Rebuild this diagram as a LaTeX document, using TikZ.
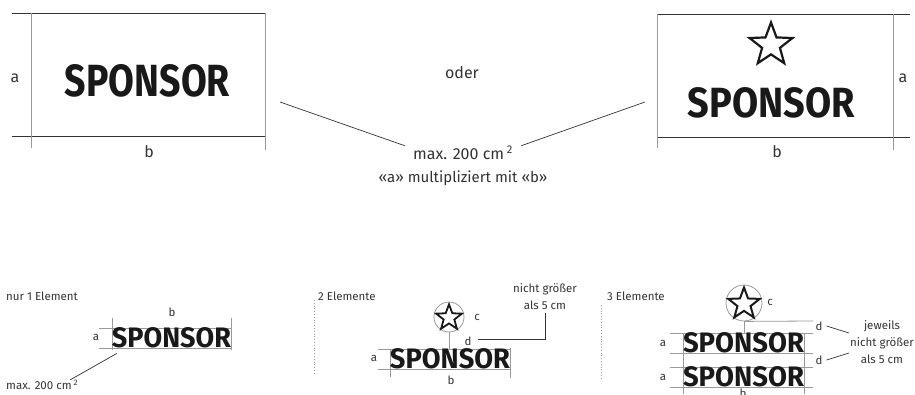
\documentclass[tikz,border=0pt]{standalone}
\usepackage{fontspec}
\setmainfont{Fira Sans}
\usepackage{graphicx}
\usepackage{tikz}
\usetikzlibrary{shapes.geometric, positioning, calc}
\definecolor{inkgray}{HTML}{333333}
\definecolor{rulegray}{HTML}{9A9A9A}
\tikzset{
    textnode/.style  = {draw=none, fill=none, rectangle, inner sep=0em, text=inkgray,
      font=\fontsize{16}{19}\selectfont},
    smalltextnode/.style = {draw=none, fill=none, rectangle, inner sep=0em, text=inkgray,
      font=\fontsize{11.5}{17}\selectfont, align=center},
    logonode/.style = {draw=none, rectangle, inner sep=0em, text=black!90},
    starnode/.style = {draw=black!90, star, star points=5, star point ratio=2.4,
      line width=2.2pt, line join=miter, inner sep=0em, minimum size=#1},
    ringnode/.style = {draw=rulegray, circle, inner sep=0em, line width=0.8pt, minimum size=#1},
    frameline/.style = {inkgray, line width=0.9pt},
    dimline/.style = {rulegray, line width=0.8pt},
    leader/.style = {inkgray, line width=0.7pt},
    sepline/.style = {rulegray, line width=0.8pt, dotted}
}
\newcommand{\sponsorlogo}[2]{\resizebox{#1}{#2}{\bfseries SPONSOR}}

\begin{document}
\begin{tikzpicture}[x=1pt, y=-1pt]
    \path [use as bounding box, clip] (0,0) rectangle (915,394);

    % Variante 1: nur Schriftzug
    \draw [frameline] (12,13) -- (265,13) (12,136) -- (265,136);
    \draw [dimline] (31,13) -- (31,148) (265,13) -- (265,150);
    \node [name=logoA, logonode] at (147.5,81) {\sponsorlogo{165pt}{32pt}};
    \node [name=aA, textnode] at (15,78) {a};
    \node [name=bA, textnode] at (149,152) {b};

    % Variante 2: Stern und Schriftzug
    \draw [frameline] (657,14) -- (910,14) (657,137) -- (910,137);
    \draw [dimline] (657,14) -- (657,148) (893,14) -- (893,150);
    \node [name=starB, starnode=45pt] at (771,45) {};
    \node [name=logoB, logonode] at (771.5,103) {\sponsorlogo{167pt}{30pt}};
    \node [name=aB, textnode] at (903,78) {a};
    \node [name=bB, textnode] at (777,152) {b};

    \node [name=oder, textnode] at (462,73) {oder};
    \node [name=maxtop, textnode, inner xsep=8pt] at (463,153) {max. 200 cm\,\textsuperscript{2}};
    \node [name=formula, textnode, font=\fontsize{15}{18}\selectfont] at (463,178)
        {«a» multipliziert mit «b»};
    \coordinate (farA) at (280,102);
    \coordinate (farB) at (645,102);
    \draw [leader] (farA) -- (maxtop.north west);
    \draw [leader] (maxtop.north east) -- (farB);

    % nur 1 Element
    \node [name=oneel, smalltextnode, anchor=west] at (6,296) {nur 1 Element};
    \draw [dimline] (99,328) -- (231,328) (99,348) -- (231,348);
    \draw [dimline] (112,318) -- (112,350) (231,318) -- (231,350);
    \node [name=logoC, logonode] at (171.5,338) {\sponsorlogo{119pt}{20pt}};
    \node [name=aC, smalltextnode] at (96,337) {a};
    \node [name=bC, smalltextnode] at (172,312) {b};
    \node [name=maxC, smalltextnode, anchor=west] at (6,385) {max. 200 cm\,\textsuperscript{2}};
    \draw [leader] ([xshift=5pt,yshift=-5pt]logoC.south west) -- ([xshift=-8pt]maxC.north east);

    % 2 Elemente
    \draw [sepline] (314,300) -- (314,373);
    \node [name=twoel, smalltextnode, anchor=west] at (318,296) {2 Elemente};
    \node [name=ringD, ringnode=30pt] at (449,317) {};
    \node [name=starD, starnode=27pt, line width=1.8pt] at (449,317.8) {};
    \draw [dimline] (378,349) -- (510,349) (378,369) -- (510,369);
    \draw [dimline] (390,349) -- (390,377) (510,348) -- (510,378);
    \node [name=logoD, logonode] at (450,359) {\sponsorlogo{120pt}{20pt}};
    \draw [dimline] (ringD.south) -- (ringD.south |- logoD.north);
    \node [name=aD, smalltextnode] at (374,358) {a};
    \node [name=bD, smalltextnode] at (451,380) {b};
    \node [name=cD, smalltextnode] at (477,317) {c};
    \node [name=dD, smalltextnode] at (468,341) {d};
    \node [name=limitD, smalltextnode] at (545,297) {nicht größer\\als 5 cm};
    \draw [leader] ([xshift=6pt,yshift=2pt]dD.east) -| ([yshift=-3pt]limitD.south);

    % 3 Elemente
    \draw [sepline] (601,305) -- (601,380);
    \node [name=threeel, smalltextnode, anchor=west] at (607,296) {3 Elemente};
    \node [name=ringE, ringnode=36pt] at (744,303) {};
    \node [name=starE, starnode=33pt, line width=2pt] at (744,304) {};
    \draw [dimline] (670,333) -- (813,333) (670,353) -- (813,353)
        (670,367) -- (813,367) (670,387) -- (813,387);
    \draw [dimline] (683,333) -- (683,394) (804,333) -- (804,394);
    \node [name=logoE, logonode] at (743.5,343) {\sponsorlogo{121pt}{20pt}};
    \node [name=logoF, logonode] at (743.5,377) {\sponsorlogo{121pt}{20pt}};
    \draw [dimline] (ringE.south) -- (ringE.south |- logoE.north);
    \draw [dimline] (ringE.south) -- (813,321);
    \node [name=aE, smalltextnode] at (663,343) {a};
    \node [name=aF, smalltextnode] at (663,377) {a};
    \node [name=bE, smalltextnode, anchor=north] at (743,389) {b};
    \node [name=cE, smalltextnode] at (770,302) {c};
    \node [name=dE, smalltextnode] at (819,326) {d};
    \node [name=dF, smalltextnode] at (819,360) {d};
    \node [name=limitE, smalltextnode] at (882,342) {jeweils\\nicht größer\\als 5 cm};
    \draw [leader] ([xshift=4pt]dE.east) -- ([xshift=-1pt,yshift=9pt]limitE.west);
    \draw [leader] ([xshift=4pt]dF.east) -- ([xshift=-1pt,yshift=-11pt]limitE.west);
\end{tikzpicture}
\end{document}
